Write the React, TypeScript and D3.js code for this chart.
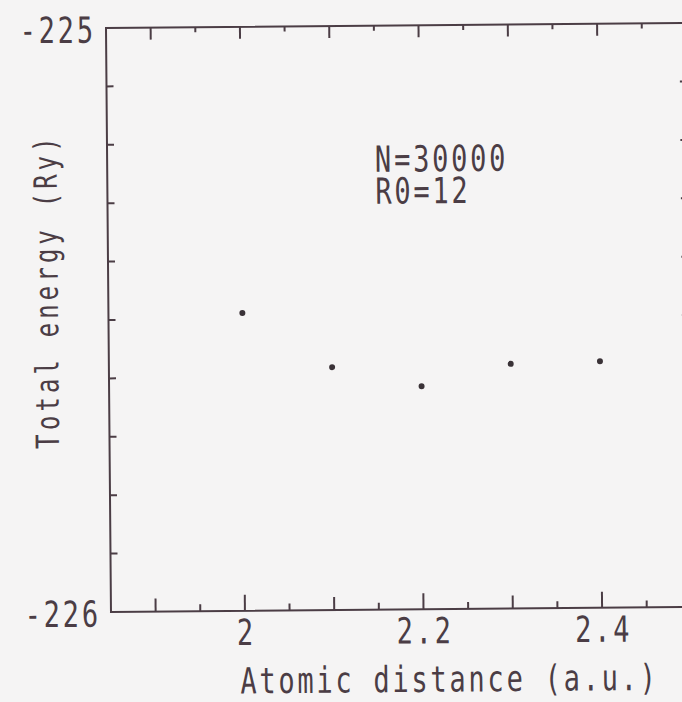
import React from "react";
import { scaleLinear } from "d3";

// data
const distances = [2.0, 2.1, 2.2, 2.3, 2.4];
const energies = [-225.49, -225.584, -225.618, -225.581, -225.578];

const xTickValues = [2, 2.2, 2.4];
const xTickLabels = ["2", "2.2", "2.4"];
const yTickValues = [-225, -226];
const yTickLabels = ["-225", "-226"];
const notes = ["N=30000", "R0=12"];

const W = 682;
const H = 702;
const INK = "#4b3d45";
const FONT = "DejaVu Sans Mono";

// narrow, widely spaced typewriter-ish lettering
const Mono = ({ x, y, text, size = 36, sx = 0.75, ls = 3.7, anchor = "start", rotate = 0 }) => {
  const shift = anchor === "end" ? ls : anchor === "middle" ? ls / 2 : 0;
  return (
    <text
      transform={`translate(${x},${y}) rotate(${rotate}) scale(${sx},1)`}
      x={shift}
      textAnchor={anchor}
      fontFamily={FONT}
      fontSize={size}
      letterSpacing={ls}
      fill={INK}
    >
      {text}
    </text>
  );
};

const App = () => {
  //scales
  const xScale = scaleLinear().domain([1.85, 2.5]).range([108.5, 688.9]);
  const yScale = scaleLinear().domain([-225, -226]).range([25.5, 609.5]);

  const [x0, x1] = xScale.range();
  const [y0, y1] = yScale.range();

  //ticks every 0.05 on x, every 0.1 on y (frame ends dropped)
  const xTicks = xScale.ticks(13).filter((t) => t > 1.86 && t < 2.49);
  const yTicks = yScale.ticks(10).filter((t) => t < -225.01 && t > -225.99);
  const isMajor = (t) => Math.abs(t * 10 - Math.round(t * 10)) < 1e-6;
  const isLabelled = (t) => xTickValues.some((v) => Math.abs(v - t) < 1e-6);

  return (
    <svg
      width={W}
      height={H}
      style={{ position: "absolute", left: 0, top: 0, background: "#f5f4f4" }}
    >
      <rect width={W} height={H} fill="#f5f4f4" />
      {/* whole sheet is scanned slightly tilted */}
      <g transform="rotate(-0.49, 400, 320)">
        <rect
          x={x0}
          y={y0}
          width={x1 - x0}
          height={y1 - y0}
          fill="none"
          stroke={INK}
          strokeWidth={2}
        />

        {xTicks.map((t) => {
          const x = xScale(t);
          const bottomLen = isLabelled(t) ? 16 : isMajor(t) ? 13 : 7;
          const topLen = isMajor(t) ? 12 : 5;
          return (
            <g key={"x" + t} stroke={INK} strokeWidth={2}>
              <line x1={x} x2={x} y1={y1} y2={y1 - bottomLen} />
              <line x1={x} x2={x} y1={y0} y2={y0 + topLen} />
            </g>
          );
        })}

        {yTicks.map((t) => {
          const y = yScale(t);
          return (
            <g key={"y" + t} stroke={INK} strokeWidth={2}>
              <line x1={x0} x2={x0 + 7} y1={y} y2={y} />
              <line x1={x1} x2={x1 - 7} y1={y} y2={y} />
            </g>
          );
        })}

        {xTickValues.map((v, i) => (
          <Mono key={"xl" + v} x={xScale(v)} y={y1 + 34} text={xTickLabels[i]} anchor="middle" />
        ))}

        {yTickValues.map((v, i) => (
          <Mono key={"yl" + v} x={x0 - 13} y={yScale(v) + 14.5} text={yTickLabels[i]} anchor="end" />
        ))}

        <Mono x={445} y={692} text="Atomic distance (a.u.)" anchor="middle" />
        <Mono
          x={58}
          y={290}
          text="Total energy (Ry)"
          anchor="middle"
          rotate={-90}
          size={32}
          ls={5.5}
        />

        {notes.map((n, i) => (
          <Mono key={n} x={xScale(2.15)} y={yScale(-225.25) + i * 32} text={n} />
        ))}

        {distances.map((d, i) => (
          <circle key={d} cx={xScale(d)} cy={yScale(energies[i])} r={3} fill="#3a3237" />
        ))}
      </g>
    </svg>
  );
};

export default App;
